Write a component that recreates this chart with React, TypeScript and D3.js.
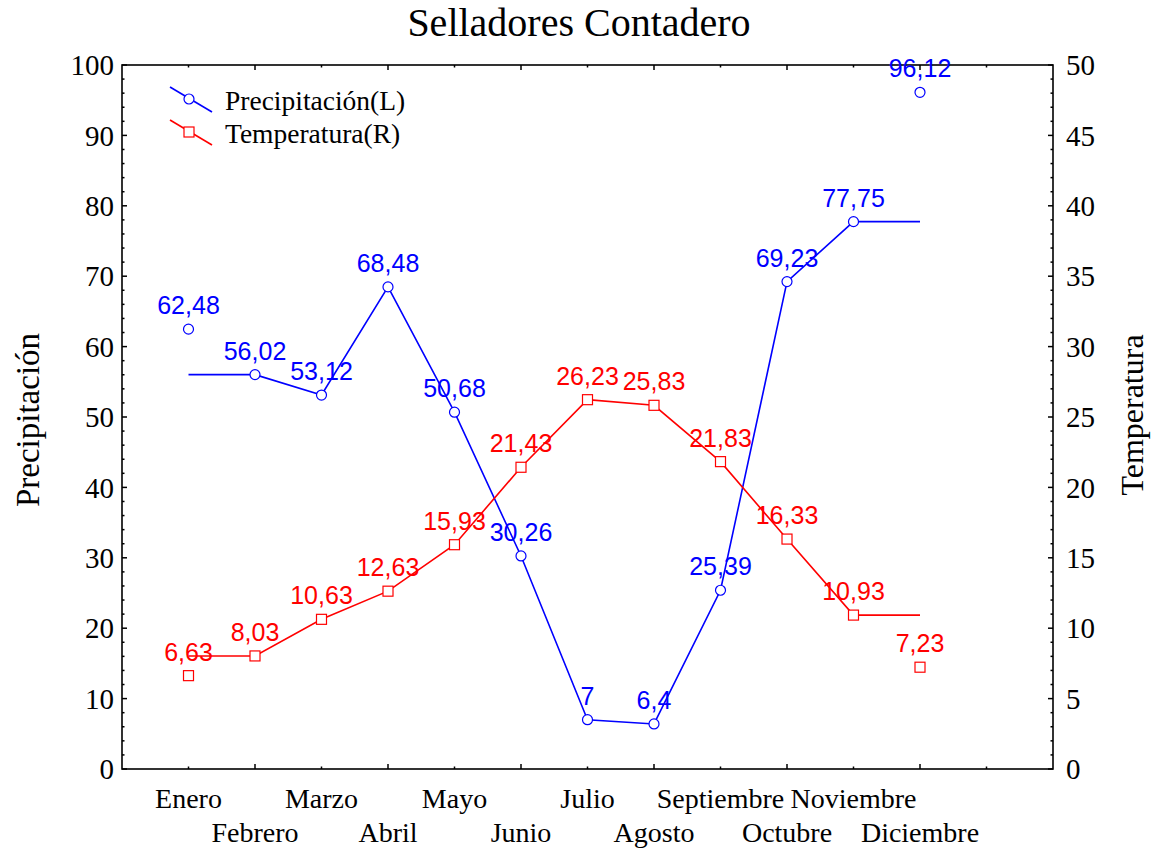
import React from "react";
import * as d3 from "d3";

const months = ["Enero", "Febrero", "Marzo", "Abril", "Mayo", "Junio", "Julio", "Agosto", "Septiembre", "Octubre", "Noviembre", "Diciembre"];
const precipPoints = [62.48, 56.02, 53.12, 68.48, 50.68, 30.26, 7, 6.4, 25.39, 69.23, 77.75, 96.12];
const precipLine = [56.02, 56.02, 53.12, 68.48, 50.68, 30.26, 7, 6.4, 25.39, 69.23, 77.75, 77.75];
const tempPoints = [6.63, 8.03, 10.63, 12.63, 15.93, 21.43, 26.23, 25.83, 21.83, 16.33, 10.93, 7.23];
const tempLine = [8.03, 8.03, 10.63, 12.63, 15.93, 21.43, 26.23, 25.83, 21.83, 16.33, 10.93, 10.93];
const leftTicks = [0, 10, 20, 30, 40, 50, 60, 70, 80, 90, 100];
const rightTicks = [0, 5, 10, 15, 20, 25, 30, 35, 40, 45, 50];

const W = 1160, H = 852;
const L = 122, R = 1053, T = 65, B = 769;
const BLUE = "#0000ff", RED = "#ff0000";
const serif = "'Liberation Serif', 'Times New Roman', serif";
const sans = "'Liberation Sans', Arial, sans-serif";

export default function App() {
  const x = d3.scaleLinear().domain([0, 14]).range([L, R]);
  const yL = d3.scaleLinear().domain([0, 100]).range([B, T]);
  const yR = d3.scaleLinear().domain([0, 50]).range([B, T]);
  const fmt = (v: number) => String(v).replace(".", ",");

  const lineL = d3.line<number>().x((_, i) => x(i + 1)).y((v) => yL(v));
  const lineR = d3.line<number>().x((_, i) => x(i + 1)).y((v) => yR(v));

  const xTicks = d3.range(1, 14);
  const leftMinor = d3.range(0, 101, 2).filter((v) => v % 10 !== 0);
  const rightMinor = d3.range(0, 51, 1).filter((v) => v % 5 !== 0);

  return (
    <svg width={W} height={H} style={{ position: "absolute", left: 0, top: 0, background: "#fff" }}>
      <rect x={0} y={0} width={W} height={H} fill="#fff" />
      <text x={579} y={36} textAnchor="middle" fontFamily={serif} fontSize={40}>Selladores Contadero</text>

      {/* frame */}
      <rect x={L} y={T} width={R - L} height={B - T} fill="none" stroke="#000" strokeWidth={1.6} />

      {/* x ticks bottom & top */}
      {xTicks.map((t) => {
        const len = t % 2 === 0 ? 5 : 2.5;
        return (
          <g key={"xt" + t}>
            <line x1={x(t)} x2={x(t)} y1={B} y2={B - len} stroke="#000" strokeWidth={1.5} />
            <line x1={x(t)} x2={x(t)} y1={T} y2={T + len} stroke="#000" strokeWidth={1.5} />
          </g>
        );
      })}
      {/* left ticks */}
      {leftTicks.map((t) => (
        <g key={"lt" + t}>
          <line x1={L} x2={L + 5} y1={yL(t)} y2={yL(t)} stroke="#000" strokeWidth={1.5} />
          <text x={114} y={yL(t)} dy="0.35em" textAnchor="end" fontFamily={serif} fontSize={29}>{t}</text>
        </g>
      ))}
      {leftMinor.map((t) => (
        <line key={"lm" + t} x1={L} x2={L + 2.5} y1={yL(t)} y2={yL(t)} stroke="#000" strokeWidth={1.5} />
      ))}
      {/* right ticks */}
      {rightTicks.map((t) => (
        <g key={"rt" + t}>
          <line x1={R} x2={R - 5} y1={yR(t)} y2={yR(t)} stroke="#000" strokeWidth={1.5} />
          <text x={1066} y={yR(t)} dy="0.35em" textAnchor="start" fontFamily={serif} fontSize={29}>{t}</text>
        </g>
      ))}
      {rightMinor.map((t) => (
        <line key={"rm" + t} x1={R} x2={R - 2.5} y1={yR(t)} y2={yR(t)} stroke="#000" strokeWidth={1.5} />
      ))}

      {/* category labels */}
      {months.map((m, i) => (
        <text key={m} x={x(i + 1)} y={i % 2 === 0 ? 808 : 842} textAnchor="middle" fontFamily={serif} fontSize={28}>{m}</text>
      ))}

      {/* axis titles */}
      <text transform={`translate(39,420) rotate(-90)`} textAnchor="middle" fontFamily={serif} fontSize={33}>Precipitación</text>
      <text transform={`translate(1143,415) rotate(-90)`} textAnchor="middle" fontFamily={serif} fontSize={32}>Temperatura</text>

      {/* lines */}
      <path d={lineL(precipLine) || ""} fill="none" stroke={BLUE} strokeWidth={1.6} />
      <path d={lineR(tempLine) || ""} fill="none" stroke={RED} strokeWidth={1.6} />

      {/* markers */}
      {precipPoints.map((v, i) => (
        <circle key={"pc" + i} cx={x(i + 1)} cy={yL(v)} r={5} fill="#fff" stroke={BLUE} strokeWidth={1.2} />
      ))}
      {tempPoints.map((v, i) => (
        <rect key={"tr" + i} x={x(i + 1) - 5} y={yR(v) - 5} width={10} height={10} fill="#fff" stroke={RED} strokeWidth={1.2} />
      ))}

      {/* labels */}
      {precipPoints.map((v, i) => (
        <text key={"pl" + i} x={x(i + 1)} y={yL(v) - 15} textAnchor="middle" fontFamily={sans} fontSize={25} fill={BLUE}>{fmt(v)}</text>
      ))}
      {tempPoints.map((v, i) => (
        <text key={"tl" + i} x={x(i + 1)} y={yR(v) - 15} textAnchor="middle" fontFamily={sans} fontSize={25} fill={RED}>{fmt(v)}</text>
      ))}

      {/* legend */}
      <line x1={170} x2={212} y1={87} y2={112} stroke={BLUE} strokeWidth={1.6} />
      <circle cx={189} cy={99} r={5} fill="#fff" stroke={BLUE} strokeWidth={1.2} />
      <text x={225} y={110} fontFamily={serif} fontSize={27.5}>Precipitación(L)</text>
      <line x1={170} x2={212} y1={120} y2={145} stroke={RED} strokeWidth={1.6} />
      <rect x={184} y={127} width={10} height={10} fill="#fff" stroke={RED} strokeWidth={1.2} />
      <text x={225} y={143} fontFamily={serif} fontSize={27.5}>Temperatura(R)</text>
    </svg>
  );
}
